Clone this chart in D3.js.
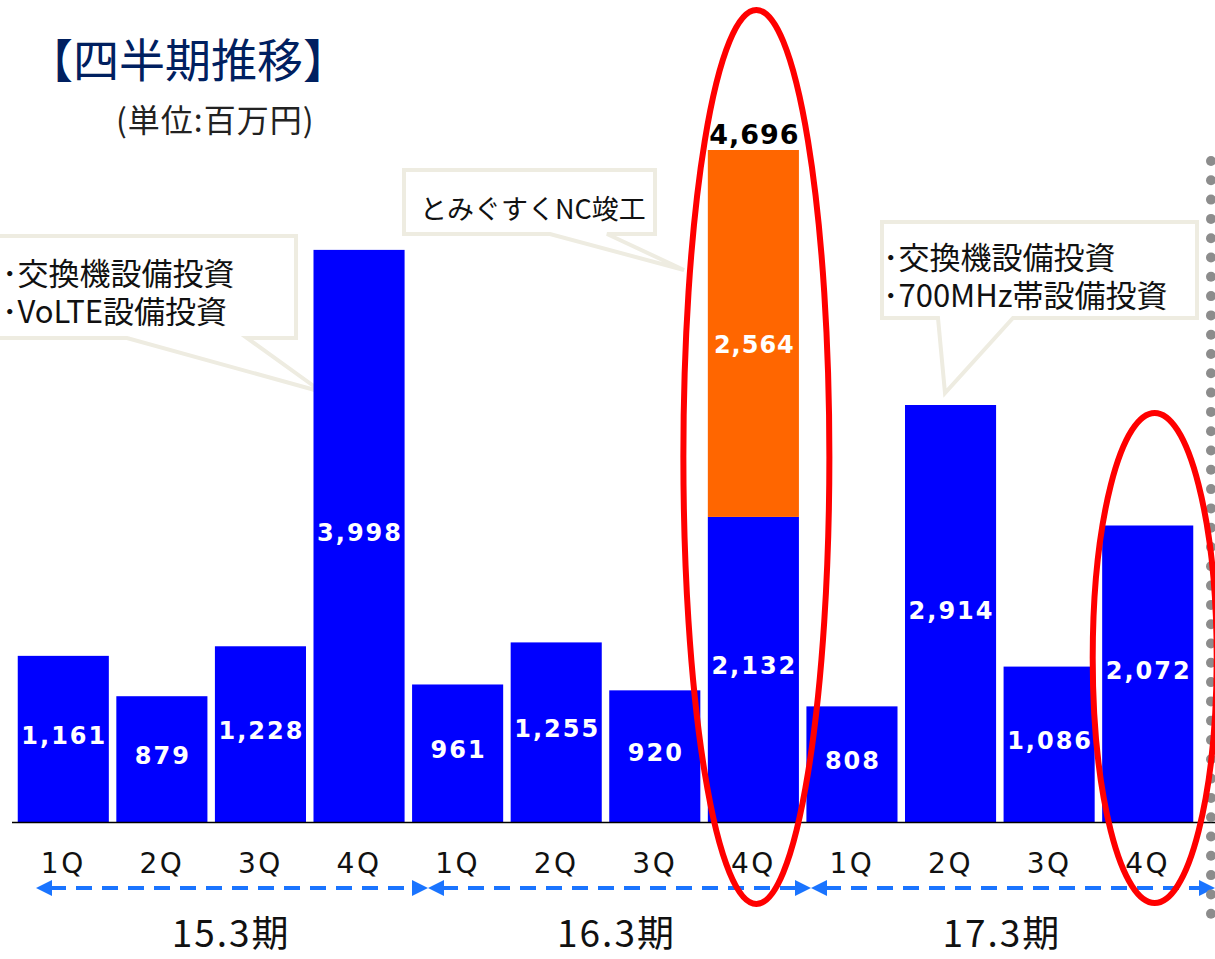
<!DOCTYPE html>
<html lang="ja">
<head>
<meta charset="UTF-8">
<title>四半期推移</title>
<script src="https://cdn.jsdelivr.net/npm/d3@7"></script>
<style>
  body { margin: 0; background: #fff; }
  .jp { font-family: "Noto Sans CJK JP", "Noto Sans", sans-serif; }
  .num { font-family: "DejaVu Sans", Verdana, sans-serif; }
</style>
</head>
<body>
<svg id="chart" width="1215" height="959"></svg>
<script>
// data
const quarters = ["1Q", "2Q", "3Q", "4Q", "1Q", "2Q", "3Q", "4Q", "1Q", "2Q", "3Q", "4Q"];
const periods = ["15.3期", "16.3期", "17.3期"];
const baseValues = [1161, 879, 1228, 3998, 961, 1255, 920, 2132, 808, 2914, 1086, 2072];
const extraValues = [0, 0, 0, 0, 0, 0, 0, 2564, 0, 0, 0, 0];
const title = "【四半期推移】";
const unit = "(単位:百万円)";

const svg = d3.select("#chart");
const baseY = 822;
const fmt = d3.format(",");
const idx = d3.range(quarters.length);
const totals = idx.map(i => baseValues[i] + extraValues[i]);

const x = d3.scaleBand().domain(idx).range([14, 1197]).paddingInner(0.076).paddingOuter(0.038);
const y = d3.scaleLinear().domain([0, d3.max(totals)]).range([baseY, 150]);
const bw = x.bandwidth();

// title
svg.append("text").attr("class", "jp").attr("x", 27).attr("y", 57)
  .attr("dominant-baseline", "central").attr("font-size", 46).attr("fill", "#002060").text(title);
svg.append("text").attr("class", "jp").attr("x", 116).attr("y", 118)
  .attr("dominant-baseline", "central").attr("font-size", 32).attr("letter-spacing", 1)
  .attr("fill", "#222").text(unit);

// callouts (box + tail drawn as one outline)
function callout(x0, y0, x1, y1, t0, t1, tip, lines, fs, lh, tx, ty) {
  const p = d3.path();
  p.moveTo(x0, y0); p.lineTo(x1, y0); p.lineTo(x1, y1);
  p.lineTo(t1, y1); p.lineTo(tip[0], tip[1]); p.lineTo(t0, y1);
  p.lineTo(x0, y1); p.closePath();
  svg.append("path").attr("d", p.toString()).attr("fill", "#fff")
    .attr("stroke", "#EEECE1").attr("stroke-width", 4).attr("stroke-linejoin", "miter");
  const t = svg.append("text").attr("class", "jp").attr("y", ty)
    .attr("dominant-baseline", "central").attr("font-size", fs).attr("fill", "#111");
  lines.forEach((s, i) => {
    t.append("tspan").attr("x", tx).attr("dy", i === 0 ? 0 : lh).text(s);
  });
}
callout(-10, 236, 296, 338, 127, 247, [322, 392], ["･交換機設備投資", "･VoLTE設備投資"], 31, 38, 2, 271);
callout(404, 170, 655, 234, 550, 607, [684, 270], ["とみぐすくNC竣工"], 27, 0, 420, 207);
callout(882, 222, 1197, 318, 938, 1013, [945, 393], ["･交換機設備投資", "･700MHz帯設備投資"], 31, 38, 883, 255);

// bars
svg.append("g").selectAll("rect").data(idx).join("rect")
  .attr("x", i => x(i)).attr("width", bw)
  .attr("y", i => y(baseValues[i])).attr("height", i => baseY - y(baseValues[i]))
  .attr("fill", "#0000FF");
svg.append("g").selectAll("rect").data(idx.filter(i => extraValues[i] > 0)).join("rect")
  .attr("x", i => x(i)).attr("width", bw)
  .attr("y", i => y(totals[i])).attr("height", i => y(baseValues[i]) - y(totals[i]))
  .attr("fill", "#FF6600");

// value labels
svg.append("g").selectAll("text").data(idx).join("text")
  .attr("class", "num").attr("x", i => x(i) + bw / 2 + 1)
  .attr("y", i => (y(baseValues[i]) + baseY) / 2 - 3)
  .attr("text-anchor", "middle").attr("dominant-baseline", "central")
  .attr("font-size", 24).attr("font-weight", "bold").attr("letter-spacing", 2)
  .attr("fill", "#fff").text(i => fmt(baseValues[i]));
const stacked = idx.filter(i => extraValues[i] > 0);
svg.append("g").selectAll("text").data(stacked).join("text")
  .attr("class", "num").attr("x", i => x(i) + bw / 2 + 1)
  .attr("y", i => y(totals[i]) + 195)
  .attr("text-anchor", "middle").attr("dominant-baseline", "central")
  .attr("font-size", 24).attr("font-weight", "bold").attr("letter-spacing", 1)
  .attr("fill", "#fff").text(i => fmt(extraValues[i]));
svg.append("g").selectAll("text").data(stacked).join("text")
  .attr("class", "num").attr("x", i => x(i) + bw / 2 + 1)
  .attr("y", i => y(totals[i]) - 16)
  .attr("text-anchor", "middle").attr("dominant-baseline", "central")
  .attr("font-size", 27).attr("font-weight", "bold").attr("letter-spacing", 1)
  .attr("fill", "#000").text(i => fmt(totals[i]));

// axis
const xAxis = svg.append("g").attr("transform", `translate(0,${baseY})`)
  .call(d3.axisBottom(x).tickSize(0).tickPadding(31).tickFormat(i => quarters[i]));
xAxis.select(".domain").attr("d", "M12,0.5H1215").attr("stroke", "#000").attr("stroke-width", 1.5);
xAxis.selectAll("text").attr("class", "num").attr("font-size", 28).attr("letter-spacing", 2.5)
  .attr("fill", "#111").attr("dy", "0.71em");

// period arrows
const arrowY = 888;
const col = "#1A74FF";
const groupEnds = [[36, 428], [428, 811], [811, 1215]];
const ag = svg.append("g");
groupEnds.forEach(([a, b], k) => {
  ag.append("line").attr("x1", a + 14).attr("x2", b - 14).attr("y1", arrowY).attr("y2", arrowY)
    .attr("stroke", col).attr("stroke-width", 4).attr("stroke-dasharray", "16,10");
  ag.append("path").attr("d", `M${a},${arrowY}L${a + 16},${arrowY - 8}L${a + 16},${arrowY + 8}Z`).attr("fill", col);
  ag.append("path").attr("d", `M${b},${arrowY}L${b - 16},${arrowY - 8}L${b - 16},${arrowY + 8}Z`).attr("fill", col);
});

// period labels, centred under each group of 4 bars
svg.append("g").selectAll("text").data(periods).join("text")
  .attr("class", "jp").attr("x", (d, k) => (x(k * 4) + x(k * 4 + 3) + bw) / 2 + 20 - k * 9)
  .attr("y", 931)
  .attr("text-anchor", "middle").attr("dominant-baseline", "central")
  .attr("font-size", 37).attr("letter-spacing", 2).attr("fill", "#111").text(d => d);

// grey dotted separator
svg.append("g").selectAll("circle").data(d3.range(40)).join("circle")
  .attr("cx", 1211).attr("cy", k => 161 + k * 19.3).attr("r", 5).attr("fill", "#8C8C8C");

// red highlight ellipses
svg.append("ellipse").attr("cx", x(7) + bw / 2 + 3).attr("cy", 457).attr("rx", 73).attr("ry", 447)
  .attr("fill", "none").attr("stroke", "#FF0000").attr("stroke-width", 6);
svg.append("ellipse").attr("cx", x(11) + bw / 2 + 7).attr("cy", 658).attr("rx", 62).attr("ry", 245)
  .attr("fill", "none").attr("stroke", "#FF0000").attr("stroke-width", 6);
</script>
</body>
</html>
